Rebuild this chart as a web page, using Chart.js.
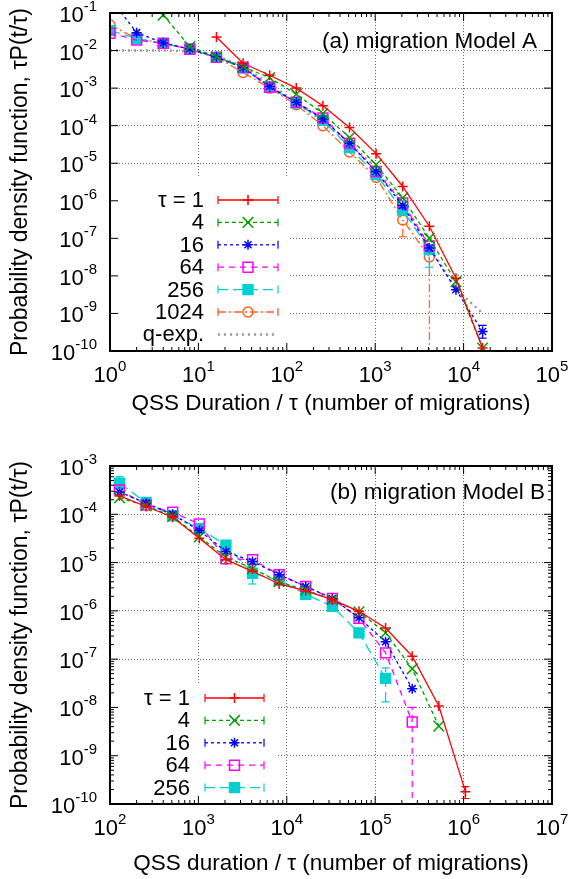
<!DOCTYPE html>
<html lang="en">
<head>
<meta charset="UTF-8">
<title>QSS duration distribution</title>
<script src="https://cdn.jsdelivr.net/npm/chart.js"></script>
<style>
  body { margin: 0; background: #fff; }
  canvas { position: absolute; left: 0; display: block; }
</style>
</head>
<body>
<canvas id="chartA" width="570" height="430" style="top:0px"></canvas>
<canvas id="chartB" width="570" height="449" style="top:430px"></canvas>
<script>
// ---------- data: panel (a) migration Model A ----------
const durationsA = [1, 2, 4, 8, 16, 32, 64, 128, 256, 512, 1024, 2048, 4096, 8192, 16384];
const tau1A    = [null, null, null, null, 2.3e-2, 4.6e-3, 2.2e-3, 1.0e-3, 3.4e-4, 8.9e-5, 1.8e-5, 2.4e-6, 2.1e-7, 8.7e-9, 1.2e-10];
const tau4A    = [null, null, 8.8e-2, 1.27e-2, 6.8e-3, 3.7e-3, 1.9e-3, 6.9e-4, 2.1e-4, 4.8e-5, 9.1e-6, 1.2e-6, 1.0e-7, 7.0e-9, 1.2e-10];
const tau16A   = [2.5e-1, 3.0e-2, 1.6e-2, 1.1e-2, 6.8e-3, 3.5e-3, 1.1e-3, 4.2e-4, 1.5e-4, 3.4e-5, 6.0e-6, 7.5e-7, 5.5e-8, 4.3e-9, 3.3e-10];
const tau64A   = [2.9e-2, 1.9e-2, 1.55e-2, 1.08e-2, 6.6e-3, 3.6e-3, 1.05e-3, 4.2e-4, 1.6e-4, 3.4e-5, 6.0e-6, 8.7e-7, 6.3e-8, null, null];
const tau256A  = [3.4e-2, 2.1e-2, 1.56e-2, 1.08e-2, 6.6e-3, 3.4e-3, 1.05e-3, 4.0e-4, 1.4e-4, 2.6e-5, 5.0e-6, 5.7e-7, 5.0e-8, null, null];
const tau1024A = [4.8e-2, 2.1e-2, 1.56e-2, 1.08e-2, 6.6e-3, 2.6e-3, 1.0e-3, 3.6e-4, 1.0e-4, 2.0e-5, 4.2e-6, 3.1e-7, 3.2e-8, null, null];
const qexpA    = [1.0e-2, 1.0e-2, 1.0e-2, 9.6e-3, 7.2e-3, 3.8e-3, 1.3e-3, 4.2e-4, 1.3e-4, 3.4e-5, 7.5e-6, 9.0e-7, 6.0e-8, 4.5e-9, 1.0e-9];
// error bars (lower / upper), null = none
const tau16LoA   = [null, null, null, null, null, null, null, null, null, null, null, null, null, null, 2.2e-10];
const tau16HiA   = [null, null, null, null, null, null, null, null, null, null, null, null, null, null, 4.8e-10];
const tau256LoA  = [null, null, null, null, null, null, null, null, null, null, null, null, 1.7e-8, null, null];
const tau1024LoA = [null, null, null, null, null, null, null, null, null, null, null, 1.1e-7, 1e-12, null, null];
const labelsA = ['\u03c4 = 1', '4', '16', '64', '256', '1024', 'q-exp.'];
const xTickExpA = [0, 1, 2, 3, 4, 5];
const yTickExpA = [-1, -2, -3, -4, -5, -6, -7, -8, -9, -10];

// ---------- data: panel (b) migration Model B ----------
const durationsB = [128, 256, 512, 1024, 2048, 4096, 8192, 16384, 32768, 65536, 131072, 262144, 524288, 1048576];
const tau1B   = [2.4e-4, 1.45e-4, 8.7e-5, 3.2e-5, 1.15e-5, 6.6e-6, 3.6e-6, 2.6e-6, 1.7e-6, 9.8e-7, 4.4e-7, 1.15e-7, 1.07e-8, 1.8e-10];
const tau4B   = [2.2e-4, 1.5e-4, 9.0e-5, 3.4e-5, 1.3e-5, 7.5e-6, 4.0e-6, 2.7e-6, 1.7e-6, 9.6e-7, 3.5e-7, 6.3e-8, 4.1e-9, null];
const tau16B  = [2.9e-4, 1.7e-4, 1.0e-4, 4.6e-5, 1.7e-5, 1.05e-5, 5.6e-6, 3.2e-6, 1.8e-6, 7.2e-7, 2.3e-7, 2.45e-8, null, null];
const tau64B  = [3.2e-4, 1.55e-4, 1.1e-4, 6.3e-5, 1.2e-5, 1.15e-5, 5.6e-6, 3.2e-6, 1.8e-6, 7.0e-7, 1.35e-7, 5.0e-9, null, null];
const tau256B = [4.4e-4, 1.75e-4, 9.3e-5, 5.1e-5, 2.3e-5, 6.0e-6, 4.3e-6, 2.2e-6, 1.24e-6, 3.5e-7, 4.0e-8, null, null, null];
const tau1LoB   = [null, null, null, null, null, null, null, null, null, null, null, null, null, 1.3e-10];
const tau1HiB   = [null, null, null, null, null, null, null, null, null, null, null, null, null, 2.3e-10];
const tau64LoB  = [null, null, null, null, null, null, null, null, null, null, null, 1e-12, null, null];
const tau64HiB  = [null, null, null, null, null, null, null, null, null, null, null, 1.0e-8, null, null];
const tau256LoB = [null, null, null, null, null, 3.6e-6, null, null, null, null, 1.3e-8, null, null, null];
const tau256HiB = [6.0e-4, null, null, null, null, null, null, null, null, null, 6.6e-8, null, null, null];
const labelsB = ['\u03c4 = 1', '4', '16', '64', '256'];
const xTickExpB = [2, 3, 4, 5, 6, 7];
const yTickExpB = [-3, -4, -5, -6, -7, -8, -9, -10];

// ---------- styles ----------
const FONT = '"Liberation Sans", Arial, Helvetica, sans-serif';
const GRID = '#666';
const styles = {
  t1:    { color: '#ff0000', dash: [],           point: 'cross',    radius: 5 },
  t4:    { color: '#00a000', dash: [4, 3],       point: 'crossRot', radius: 7.5 },
  t16:   { color: '#0000ff', dash: [3, 3],       point: 'star',     radius: 5 },
  t64:   { color: '#ff00ff', dash: [6, 5],       point: 'rect',     radius: 7 },
  t256:  { color: '#00d0d0', dash: [10, 5],      point: 'rect',     radius: 7, filled: true },
  t1024: { color: '#ff6020', dash: [8, 3, 2, 3], point: 'circle',   radius: 5 },
  qexp:  { color: '#999999', dash: [2, 4],       point: false,      width: 2.5, caps: false }
};

// 데이터셋 하나 만들기
function series(label, xs, ys, st, lo, hi) {
  const pts = [];
  xs.forEach((x, i) => {
    if (ys[i] == null) return;
    pts.push({ x: x, y: ys[i], lo: lo ? lo[i] : null, hi: hi ? hi[i] : null });
  });
  return {
    label: label,
    data: pts,
    borderColor: st.color,
    backgroundColor: st.color,
    borderWidth: st.width || 1.3,
    borderDash: st.dash,
    pointStyle: st.point,
    pointRadius: st.point ? st.radius : 0,
    pointBorderWidth: 1.5,
    pointBorderColor: st.color,
    pointBackgroundColor: st.filled ? st.color : 'rgba(0,0,0,0)',
    tension: 0,
    fill: false,
    caps: st.caps !== false
  };
}

// 10^n 형태 눈금 라벨
function drawPow(ctx, x, y, exp, align) {
  ctx.font = '22px ' + FONT;
  const wBase = ctx.measureText('10').width;
  ctx.font = '15px ' + FONT;
  const e = exp < 0 ? '-' + (-exp) : String(exp);
  const wExp = ctx.measureText(e).width;
  const x0 = align === 'right' ? x - wBase - wExp : x - (wBase + wExp) / 2;
  ctx.textAlign = 'left';
  ctx.textBaseline = 'alphabetic';
  ctx.font = '22px ' + FONT;
  ctx.fillText('10', x0, y);
  ctx.font = '15px ' + FONT;
  ctx.fillText(e, x0 + wBase, y - 11);
}

// 오차 막대
const errorBars = {
  id: 'errorBars',
  afterDatasetsDraw(chart) {
    const { ctx, chartArea: a, scales: { x, y } } = chart;
    ctx.save();
    ctx.beginPath();
    ctx.rect(a.left, a.top, a.right - a.left, a.bottom - a.top);
    ctx.clip();
    chart.data.datasets.forEach(ds => {
      ds.data.forEach(p => {
        if (p.lo == null && p.hi == null) return;
        const px = x.getPixelForValue(p.x);
        const py = y.getPixelForValue(p.y);
        const yLo = p.lo != null ? Math.min(y.getPixelForValue(p.lo), a.bottom + 5) : py;
        const yHi = p.hi != null ? y.getPixelForValue(p.hi) : py;
        ctx.strokeStyle = ds.borderColor;
        ctx.lineWidth = 1.2;
        ctx.setLineDash(ds.borderDash);
        ctx.beginPath();
        ctx.moveTo(px, yLo);
        ctx.lineTo(px, yHi);
        ctx.stroke();
        ctx.setLineDash([]);
        ctx.beginPath();
        [yLo, yHi].forEach(yy => {
          if (yy !== py && yy < a.bottom) { ctx.moveTo(px - 4, yy); ctx.lineTo(px + 4, yy); }
        });
        ctx.stroke();
      });
    });
    ctx.restore();
  }
};

// 범례 (흰 배경 상자)
function keyPlugin(k) {
  return {
    id: 'keyBox',
    beforeDatasetsDraw(chart) {
      const ctx = chart.ctx;
      ctx.save();
      ctx.fillStyle = '#fff';
      ctx.fillRect(k.box[0], k.box[1], k.box[2], k.box[3]);
      chart.data.datasets.forEach((ds, i) => {
        const yy = k.top + i * k.step;
        ctx.fillStyle = '#000';
        ctx.font = '22px ' + FONT;
        ctx.textAlign = 'right';
        ctx.textBaseline = 'middle';
        ctx.fillText(ds.label, k.textRight, yy + 1);
        ctx.strokeStyle = ds.borderColor;
        ctx.lineWidth = ds.borderWidth;
        ctx.setLineDash(ds.borderDash);
        ctx.beginPath();
        ctx.moveTo(k.x1, yy);
        ctx.lineTo(k.x2, yy);
        ctx.stroke();
        ctx.setLineDash([]);
        if (ds.caps) {
          ctx.lineWidth = 1.2;
          ctx.beginPath();
          ctx.moveTo(k.x1, yy - 4); ctx.lineTo(k.x1, yy + 4);
          ctx.moveTo(k.x2, yy - 4); ctx.lineTo(k.x2, yy + 4);
          ctx.stroke();
        }
        if (ds.pointStyle) {
          ctx.fillStyle = ds.pointBackgroundColor;
          ctx.strokeStyle = ds.borderColor;
          ctx.lineWidth = ds.pointBorderWidth;
          Chart.helpers.drawPoint(ctx, { pointStyle: ds.pointStyle, rotation: 0, radius: ds.pointRadius, borderWidth: ds.pointBorderWidth }, (k.x1 + k.x2) / 2, yy);
        }
      });
      ctx.restore();
    }
  };
}

// 테두리, 안쪽 눈금, 눈금 라벨, 패널 제목
function framePlugin(p) {
  return {
    id: 'frame',
    afterDraw(chart) {
      const { ctx, chartArea: a, scales: { x, y } } = chart;
      ctx.save();
      ctx.strokeStyle = '#000';
      ctx.lineWidth = 1;
      ctx.beginPath();
      const xe = p.xTickExp;
      for (let e = xe[0]; e <= xe[xe.length - 1]; e++) {
        for (let m = 1; m <= 9; m++) {
          const v = m * Math.pow(10, e);
          if (v > p.xMax * 1.0001) break;
          const px = x.getPixelForValue(v);
          const len = m === 1 ? 8 : 4;
          ctx.moveTo(px, a.bottom); ctx.lineTo(px, a.bottom - len);
          ctx.moveTo(px, a.top); ctx.lineTo(px, a.top + len);
        }
      }
      const ye = p.yTickExp;
      for (let e = ye[ye.length - 1]; e <= ye[0]; e++) {
        for (let m = 1; m <= 9; m++) {
          if (m > 1 && !p.yMinor) break;
          const v = m * Math.pow(10, e);
          if (v > p.yMax * 1.0001) break;
          const py = y.getPixelForValue(v);
          const len = m === 1 ? 8 : 4;
          ctx.moveTo(a.left, py); ctx.lineTo(a.left + len, py);
          ctx.moveTo(a.right, py); ctx.lineTo(a.right - len, py);
        }
      }
      ctx.stroke();
      ctx.lineWidth = 2;
      ctx.strokeRect(a.left, a.top, a.right - a.left, a.bottom - a.top);

      ctx.fillStyle = '#000';
      xe.forEach(e => drawPow(ctx, x.getPixelForValue(Math.pow(10, e)), a.bottom + 31, e, 'center'));
      ye.forEach(e => drawPow(ctx, a.left - 13, y.getPixelForValue(Math.pow(10, e)) + 9, e, 'right'));

      ctx.font = '22.5px ' + FONT;
      ctx.textAlign = 'right';
      ctx.textBaseline = 'middle';
      ctx.fillText(p.panelTitle, p.titleRight, p.titleY);
      ctx.restore();
    }
  };
}

function makePanel(id, p) {
  return new Chart(document.getElementById(id), {
    type: 'line',
    data: { datasets: p.datasets },
    options: {
      responsive: false,
      animation: false,
      events: [],
      layout: { padding: { left: 0, right: 18, top: p.padTop, bottom: 0 } },
      plugins: { legend: { display: false }, tooltip: { enabled: false } },
      scales: {
        x: {
          type: 'logarithmic',
          min: p.xMin,
          max: p.xMax,
          afterBuildTicks: s => { s.ticks = p.xTickExp.map(e => ({ value: Math.pow(10, e) })); },
          afterFit: s => { s.height = p.xAxisHeight; },
          ticks: { display: false },
          grid: { color: GRID, lineWidth: 1, drawTicks: false },
          border: { display: false, dash: [1, 2] },
          title: { display: true, text: p.xTitle, color: '#000', font: { family: FONT, size: 22.5 }, padding: { top: 0, bottom: p.xTitlePad } }
        },
        y: {
          type: 'logarithmic',
          min: p.yMin,
          max: p.yMax,
          afterBuildTicks: s => { s.ticks = p.yTickExp.map(e => ({ value: Math.pow(10, e) })); },
          afterFit: s => { s.width = 110; },
          ticks: { display: false },
          grid: { color: GRID, lineWidth: 1, drawTicks: false },
          border: { display: false, dash: [1, 2] },
          title: { display: true, text: 'Probability density function, \u03c4P(t/\u03c4)', color: '#000', font: { family: FONT, size: 23 }, padding: { top: 7, bottom: 0 } }
        }
      }
    },
    plugins: [keyPlugin(p.key), errorBars, framePlugin(p)]
  });
}

makePanel('chartA', {
  datasets: [
    series(labelsA[0], durationsA, tau1A, styles.t1),
    series(labelsA[1], durationsA, tau4A, styles.t4),
    series(labelsA[2], durationsA, tau16A, styles.t16, tau16LoA, tau16HiA),
    series(labelsA[3], durationsA, tau64A, styles.t64),
    series(labelsA[4], durationsA, tau256A, styles.t256, tau256LoA, null),
    series(labelsA[5], durationsA, tau1024A, styles.t1024, tau1024LoA, null),
    series(labelsA[6], durationsA, qexpA, styles.qexp)
  ],
  xMin: 1, xMax: 1e5, yMin: 1e-10, yMax: 1e-1,
  xTickExp: xTickExpA, yTickExp: yTickExpA, yMinor: false,
  padTop: 13, xAxisHeight: 79, xTitlePad: 13,
  xTitle: 'QSS Duration / \u03c4 (number of migrations)',
  panelTitle: '(a) migration Model A', titleRight: 537, titleY: 42,
  key: { box: [112, 178, 178, 172], top: 200, step: 22.4, textRight: 204, x1: 218, x2: 278 }
});

makePanel('chartB', {
  datasets: [
    series(labelsB[0], durationsB, tau1B, styles.t1, tau1LoB, tau1HiB),
    series(labelsB[1], durationsB, tau4B, styles.t4),
    series(labelsB[2], durationsB, tau16B, styles.t16),
    series(labelsB[3], durationsB, tau64B, styles.t64, tau64LoB, tau64HiB),
    series(labelsB[4], durationsB, tau256B, styles.t256, tau256LoB, tau256HiB)
  ],
  xMin: 100, xMax: 1e7, yMin: 1e-10, yMax: 1e-3,
  xTickExp: xTickExpB, yTickExp: yTickExpB, yMinor: true,
  padTop: 36, xAxisHeight: 75, xTitlePad: 2,
  xTitle: 'QSS duration / \u03c4 (number of migrations)',
  panelTitle: '(b) migration Model B', titleRight: 545, titleY: 63,
  key: { box: [112, 254, 164, 119], top: 268, step: 22.4, textRight: 190, x1: 205, x2: 264 }
});
</script>
</body>
</html>
